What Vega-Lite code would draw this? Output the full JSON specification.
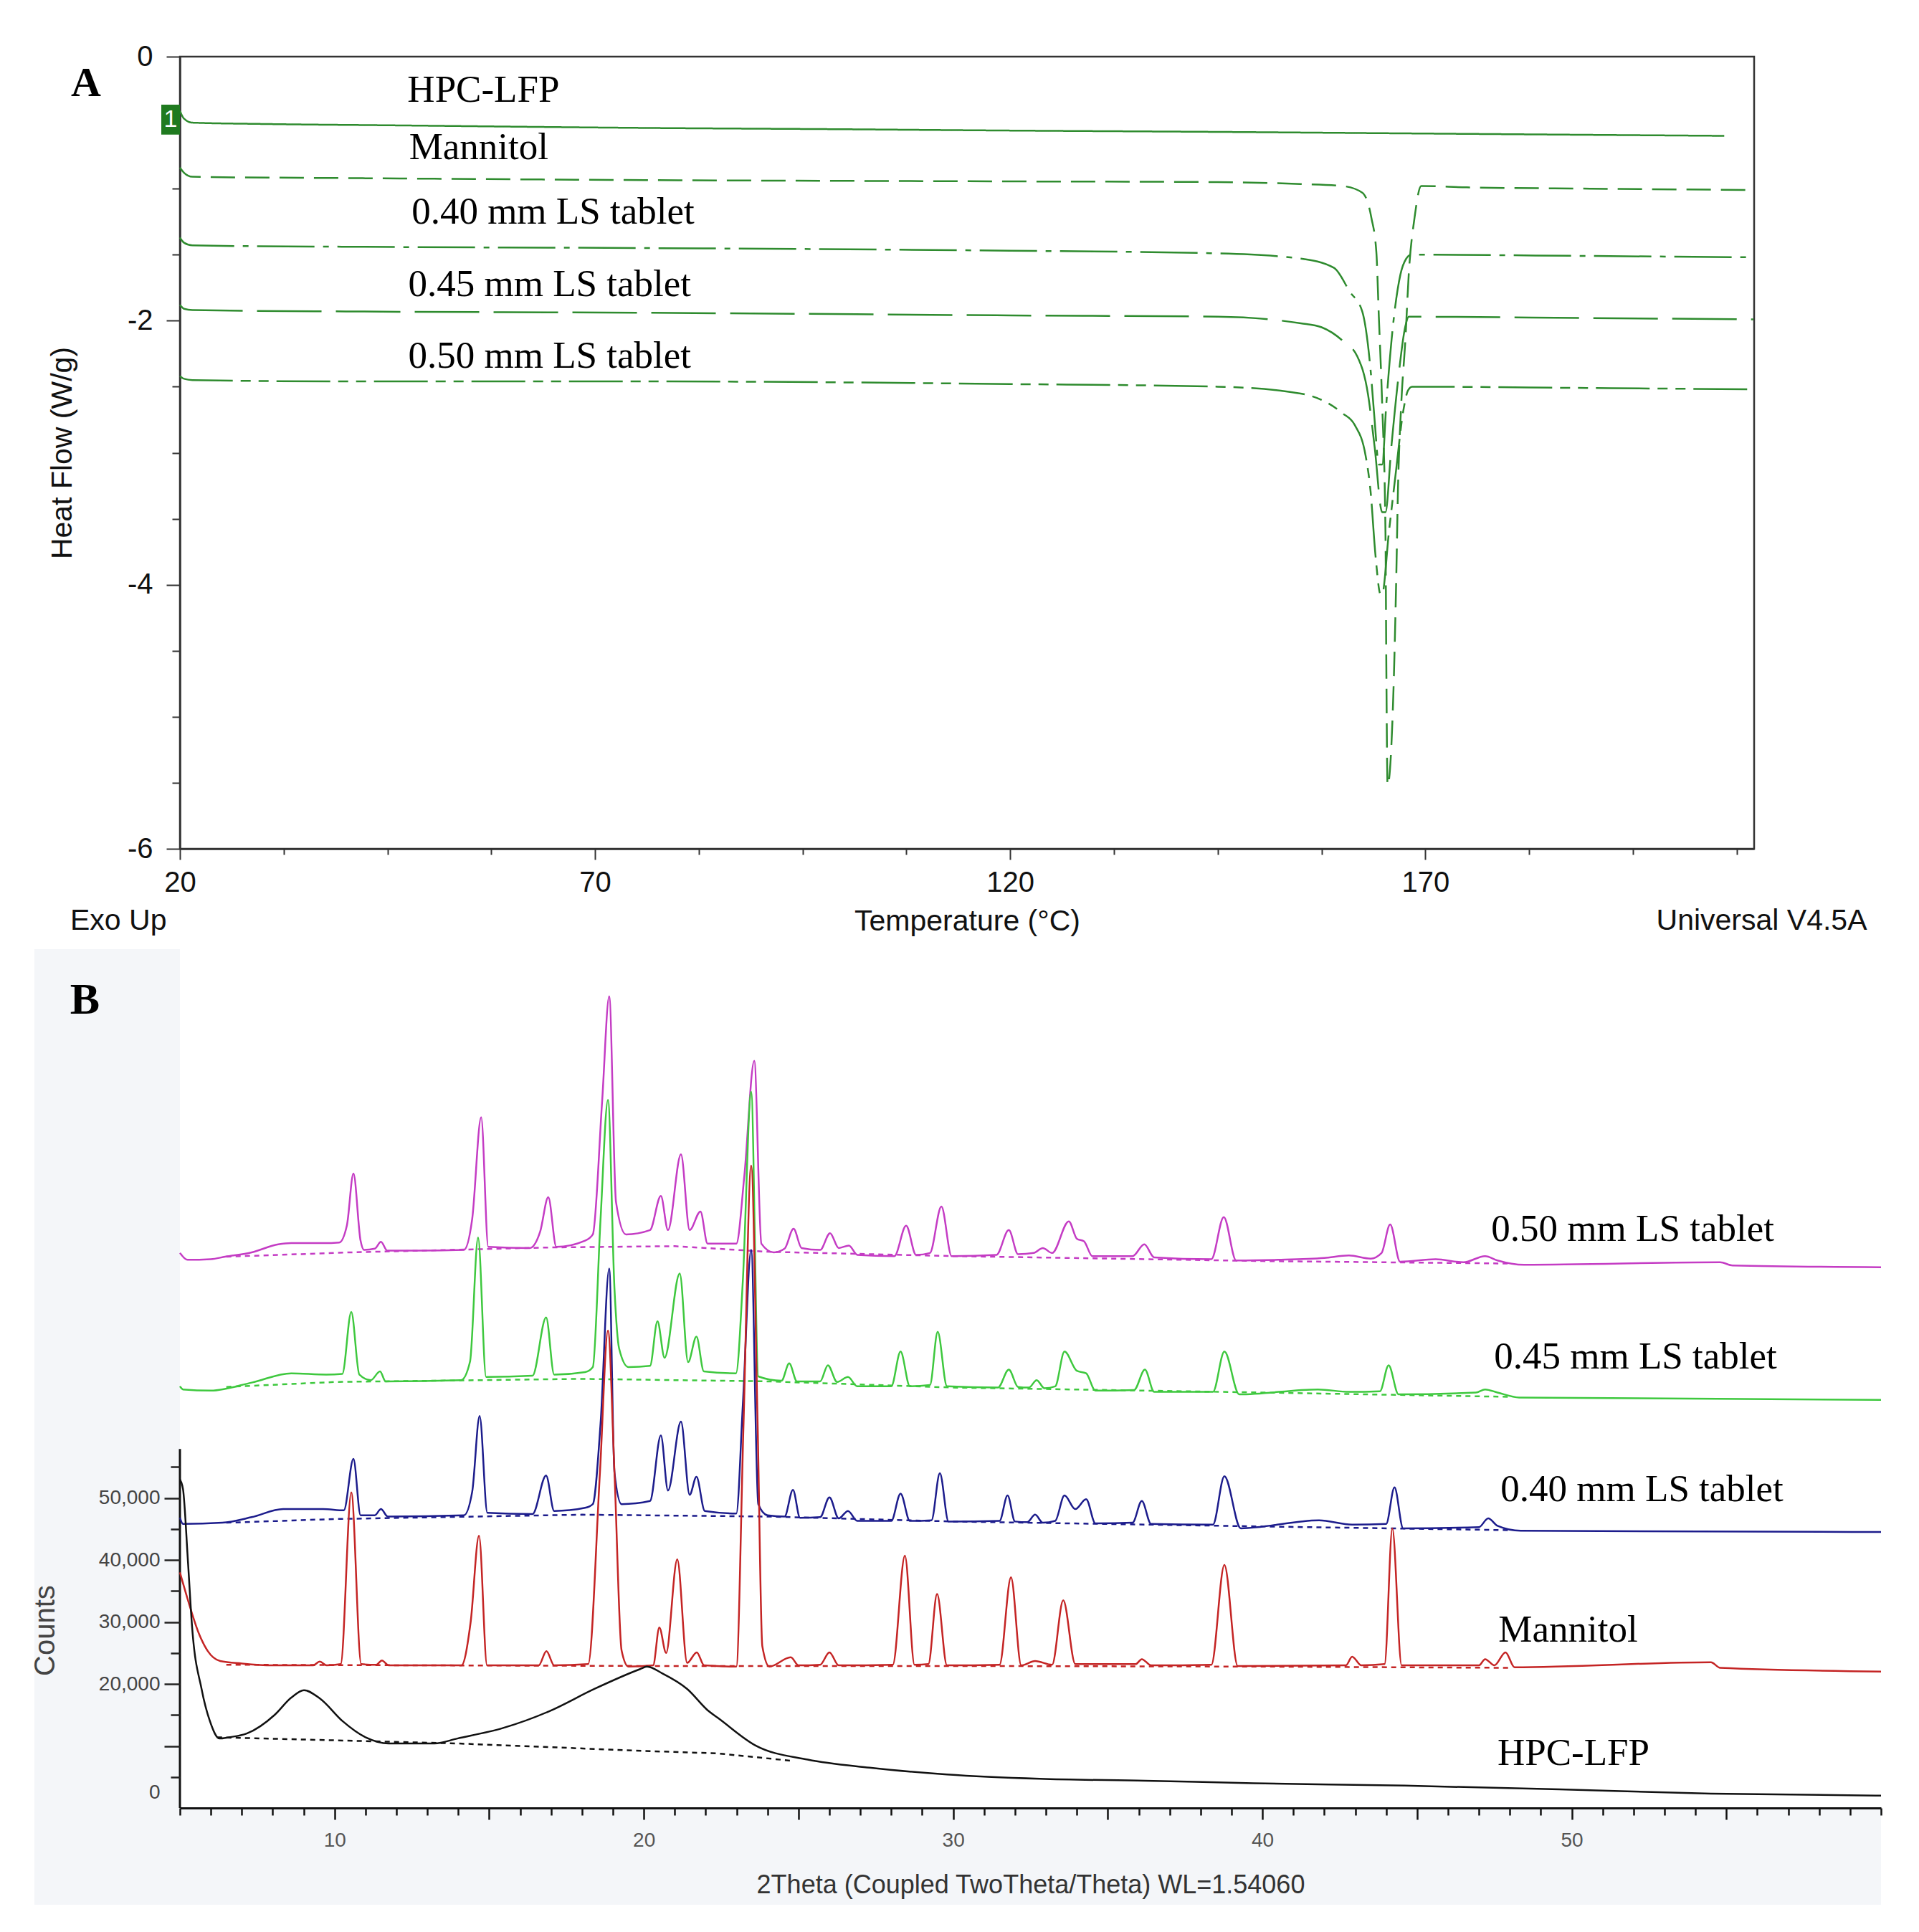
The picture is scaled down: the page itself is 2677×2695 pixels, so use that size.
{
"$schema": "https://vega.github.io/schema/vega-lite/v6.json",
"background": "white",
"padding": {"left": 43, "top": 57, "right": 0, "bottom": 0},
"config": {"font": "Liberation Sans"},
"bounds": "flush",
"spacing": 140,
"datasets": {
"dsc": [
{"s":"HPC","T":20,"hf":-0.41},{"s":"HPC","T":20.5,"hf":-0.47},{"s":"HPC","T":21.5,"hf":-0.5},{"s":"HPC","T":30,"hf":-0.51},{"s":"HPC","T":45,"hf":-0.52},{"s":"HPC","T":76,"hf":-0.54},{"s":"HPC","T":100,"hf":-0.55},{"s":"HPC","T":120,"hf":-0.56},{"s":"HPC","T":145,"hf":-0.57},{"s":"HPC","T":165,"hf":-0.58},{"s":"HPC","T":185,"hf":-0.59},{"s":"HPC","T":206,"hf":-0.6},
{"s":"MAN","T":20,"hf":-0.84},{"s":"MAN","T":20.5,"hf":-0.88},{"s":"MAN","T":21.5,"hf":-0.91},{"s":"MAN","T":40,"hf":-0.92},{"s":"MAN","T":76,"hf":-0.935},{"s":"MAN","T":120,"hf":-0.945},{"s":"MAN","T":145,"hf":-0.95},{"s":"MAN","T":155,"hf":-0.965},{"s":"MAN","T":160,"hf":-0.98},{"s":"MAN","T":162.4,"hf":-1.03},{"s":"MAN","T":163.5,"hf":-1.22},{"s":"MAN","T":164.1,"hf":-1.48},{"s":"MAN","T":164.4,"hf":-1.97},{"s":"MAN","T":164.8,"hf":-2.63},{"s":"MAN","T":165.2,"hf":-3.61},{"s":"MAN","T":165.3,"hf":-4.6},{"s":"MAN","T":165.45,"hf":-5.52},{"s":"MAN","T":166.1,"hf":-4.92},{"s":"MAN","T":166.5,"hf":-3.94},{"s":"MAN","T":166.7,"hf":-3.29},{"s":"MAN","T":167.1,"hf":-2.63},{"s":"MAN","T":167.6,"hf":-2.14},{"s":"MAN","T":168.0,"hf":-1.65},{"s":"MAN","T":168.7,"hf":-1.22},{"s":"MAN","T":169.5,"hf":-0.98},{"s":"MAN","T":175,"hf":-0.99},{"s":"MAN","T":190,"hf":-1.0},{"s":"MAN","T":209.5,"hf":-1.01},
{"s":"T40","T":20,"hf":-1.37},{"s":"T40","T":20.5,"hf":-1.41},{"s":"T40","T":21.5,"hf":-1.43},{"s":"T40","T":40,"hf":-1.44},{"s":"T40","T":76,"hf":-1.45},{"s":"T40","T":120,"hf":-1.47},{"s":"T40","T":145,"hf":-1.49},{"s":"T40","T":155,"hf":-1.53},{"s":"T40","T":159,"hf":-1.6},{"s":"T40","T":160.9,"hf":-1.78},{"s":"T40","T":162.4,"hf":-1.93},{"s":"T40","T":163.4,"hf":-2.37},{"s":"T40","T":163.9,"hf":-2.76},{"s":"T40","T":164.4,"hf":-3.09},{"s":"T40","T":164.8,"hf":-3.09},{"s":"T40","T":165.3,"hf":-2.63},{"s":"T40","T":166.1,"hf":-2.04},{"s":"T40","T":167.0,"hf":-1.65},{"s":"T40","T":167.7,"hf":-1.53},{"s":"T40","T":168.3,"hf":-1.5},{"s":"T40","T":190,"hf":-1.51},{"s":"T40","T":209.5,"hf":-1.52},
{"s":"T45","T":20,"hf":-1.88},{"s":"T45","T":20.5,"hf":-1.91},{"s":"T45","T":21.5,"hf":-1.92},{"s":"T45","T":40,"hf":-1.93},{"s":"T45","T":76,"hf":-1.94},{"s":"T45","T":120,"hf":-1.96},{"s":"T45","T":145,"hf":-1.97},{"s":"T45","T":155,"hf":-2.02},{"s":"T45","T":157.5,"hf":-2.05},{"s":"T45","T":160,"hf":-2.15},{"s":"T45","T":161.8,"hf":-2.27},{"s":"T45","T":163.1,"hf":-2.56},{"s":"T45","T":163.9,"hf":-2.96},{"s":"T45","T":164.8,"hf":-3.45},{"s":"T45","T":165.2,"hf":-3.45},{"s":"T45","T":165.9,"hf":-2.96},{"s":"T45","T":166.7,"hf":-2.46},{"s":"T45","T":167.6,"hf":-2.04},{"s":"T45","T":168.0,"hf":-1.97},{"s":"T45","T":190,"hf":-1.98},{"s":"T45","T":209.5,"hf":-1.99},
{"s":"T50","T":20,"hf":-2.42},{"s":"T50","T":20.5,"hf":-2.44},{"s":"T50","T":21.5,"hf":-2.45},{"s":"T50","T":40,"hf":-2.46},{"s":"T50","T":76,"hf":-2.46},{"s":"T50","T":120,"hf":-2.48},{"s":"T50","T":145,"hf":-2.5},{"s":"T50","T":152.6,"hf":-2.53},{"s":"T50","T":157.5,"hf":-2.6},{"s":"T50","T":160,"hf":-2.7},{"s":"T50","T":161.5,"hf":-2.79},{"s":"T50","T":162.8,"hf":-3.02},{"s":"T50","T":163.4,"hf":-3.29},{"s":"T50","T":164.0,"hf":-3.78},{"s":"T50","T":164.6,"hf":-4.07},{"s":"T50","T":164.8,"hf":-4.07},{"s":"T50","T":165.6,"hf":-3.61},{"s":"T50","T":166.5,"hf":-3.12},{"s":"T50","T":167.3,"hf":-2.7},{"s":"T50","T":167.9,"hf":-2.53},{"s":"T50","T":168.4,"hf":-2.5},{"s":"T50","T":190,"hf":-2.51},{"s":"T50","T":209.5,"hf":-2.52}
],
"labA": [
{"text":"HPC-LFP","T":47.4,"hf":-0.344},
{"text":"Mannitol","T":47.6,"hf":-0.778},
{"text":"0.40 mm LS tablet","T":47.9,"hf":-1.267},
{"text":"0.45 mm LS tablet","T":47.5,"hf":-1.815},
{"text":"0.50 mm LS tablet","T":47.5,"hf":-2.358}
],
"labB": [
{"text":"0.50 mm LS tablet","t":47.4,"c":91500},
{"text":"0.45 mm LS tablet","t":47.49,"c":70900},
{"text":"0.40 mm LS tablet","t":47.7,"c":49500},
{"text":"Mannitol","t":47.63,"c":26800},
{"text":"HPC-LFP","t":47.6,"c":6900}
],
"base": [
{"s":"p050","t":6.5,"c":88900},{"s":"p050","t":10.5,"c":89600},{"s":"p050","t":17,"c":90400},{"s":"p050","t":21,"c":90600},{"s":"p050","t":24,"c":89700},{"s":"p050","t":30,"c":89000},{"s":"p050","t":40,"c":88200},{"s":"p050","t":48,"c":87800},
{"s":"p045","t":6.5,"c":67900},{"s":"p045","t":10,"c":68700},{"s":"p045","t":18,"c":69200},{"s":"p045","t":24,"c":68800},{"s":"p045","t":30,"c":67800},{"s":"p045","t":40,"c":67000},{"s":"p045","t":48,"c":66300},
{"s":"p040","t":6.5,"c":46000},{"s":"p040","t":10,"c":46600},{"s":"p040","t":18,"c":47300},{"s":"p040","t":24,"c":47000},{"s":"p040","t":30,"c":46200},{"s":"p040","t":40,"c":45400},{"s":"p040","t":48,"c":44800},
{"s":"man","t":6.5,"c":23100},{"s":"man","t":20,"c":22900},{"s":"man","t":30,"c":22900},{"s":"man","t":40,"c":22800},{"s":"man","t":48,"c":22600},
{"s":"hpc","t":6.2,"c":11400},{"s":"hpc","t":14,"c":10400},{"s":"hpc","t":20,"c":9200},{"s":"hpc","t":22.4,"c":8800},{"s":"hpc","t":24.8,"c":7600}
],
"xrd": [
{"s":"p050","t":5.0,"c":89500},{"s":"p050","t":5.25,"c":88400},{"s":"p050","t":6.0,"c":88500},{"s":"p050","t":6.46,"c":88900},{"s":"p050","t":7.32,"c":89600},{"s":"p050","t":8.18,"c":90900},{"s":"p050","t":8.6,"c":91100},{"s":"p050","t":9.63,"c":91100},{"s":"p050","t":10.15,"c":91200},{"s":"p050","t":10.4,"c":94000},{"s":"p050","t":10.61,"c":102300},{"s":"p050","t":10.84,"c":91500},{"s":"p050","t":10.95,"c":90000},{"s":"p050","t":11.3,"c":90200},{"s":"p050","t":11.5,"c":91300},{"s":"p050","t":11.7,"c":89900},{"s":"p050","t":12.7,"c":89900},{"s":"p050","t":14.18,"c":90000},{"s":"p050","t":14.45,"c":95000},{"s":"p050","t":14.74,"c":111400},{"s":"p050","t":14.97,"c":90500},{"s":"p050","t":16.31,"c":90300},{"s":"p050","t":16.65,"c":93000},{"s":"p050","t":16.91,"c":98500},{"s":"p050","t":17.17,"c":90500},{"s":"p050","t":18.1,"c":91500},{"s":"p050","t":18.35,"c":92500},{"s":"p050","t":18.65,"c":113900},{"s":"p050","t":18.88,"c":130900},{"s":"p050","t":19.1,"c":97700},{"s":"p050","t":19.42,"c":92500},{"s":"p050","t":20.2,"c":93200},{"s":"p050","t":20.55,"c":98700},{"s":"p050","t":20.78,"c":93200},{"s":"p050","t":21.2,"c":105400},{"s":"p050","t":21.48,"c":93200},{"s":"p050","t":21.83,"c":96200},{"s":"p050","t":22.06,"c":91000},{"s":"p050","t":22.99,"c":91000},{"s":"p050","t":23.25,"c":102000},{"s":"p050","t":23.57,"c":120500},{"s":"p050","t":23.8,"c":91000},{"s":"p050","t":24.2,"c":89600},{"s":"p050","t":24.55,"c":90200},{"s":"p050","t":24.84,"c":93400},{"s":"p050","t":25.1,"c":90300},{"s":"p050","t":25.7,"c":90000},{"s":"p050","t":26.02,"c":92700},{"s":"p050","t":26.3,"c":90300},{"s":"p050","t":26.63,"c":90700},{"s":"p050","t":26.9,"c":89200},{"s":"p050","t":28.1,"c":89000},{"s":"p050","t":28.48,"c":93900},{"s":"p050","t":28.8,"c":89200},{"s":"p050","t":29.25,"c":89500},{"s":"p050","t":29.62,"c":97000},{"s":"p050","t":29.95,"c":89000},{"s":"p050","t":31.4,"c":89200},{"s":"p050","t":31.8,"c":93200},{"s":"p050","t":32.1,"c":89300},{"s":"p050","t":32.6,"c":89500},{"s":"p050","t":32.9,"c":90300},{"s":"p050","t":33.2,"c":89500},{"s":"p050","t":33.74,"c":94600},{"s":"p050","t":34.0,"c":91800},{"s":"p050","t":34.23,"c":91400},{"s":"p050","t":34.5,"c":89000},{"s":"p050","t":35.8,"c":89000},{"s":"p050","t":36.18,"c":90900},{"s":"p050","t":36.5,"c":88800},{"s":"p050","t":38.35,"c":88500},{"s":"p050","t":38.75,"c":95300},{"s":"p050","t":39.15,"c":88300},{"s":"p050","t":40.5,"c":88400},{"s":"p050","t":42.0,"c":88700},{"s":"p050","t":42.8,"c":89100},{"s":"p050","t":43.5,"c":88600},{"s":"p050","t":43.85,"c":89500},{"s":"p050","t":44.13,"c":94100},{"s":"p050","t":44.45,"c":88100},{"s":"p050","t":45.6,"c":88500},{"s":"p050","t":46.5,"c":88000},{"s":"p050","t":47.2,"c":89000},{"s":"p050","t":47.6,"c":88300},{"s":"p050","t":48.46,"c":87600},{"s":"p050","t":54.8,"c":88000},{"s":"p050","t":55.2,"c":87500},{"s":"p050","t":60,"c":87200},
{"s":"p045","t":5.0,"c":68000},{"s":"p045","t":5.1,"c":67500},{"s":"p045","t":6.0,"c":67300},{"s":"p045","t":7.32,"c":68600},{"s":"p045","t":8.6,"c":70100},{"s":"p045","t":9.73,"c":69900},{"s":"p045","t":10.25,"c":70000},{"s":"p045","t":10.54,"c":80000},{"s":"p045","t":10.8,"c":69900},{"s":"p045","t":11.17,"c":69000},{"s":"p045","t":11.47,"c":70400},{"s":"p045","t":11.65,"c":68800},{"s":"p045","t":14.09,"c":69000},{"s":"p045","t":14.38,"c":72000},{"s":"p045","t":14.64,"c":92000},{"s":"p045","t":14.9,"c":69500},{"s":"p045","t":16.4,"c":69700},{"s":"p045","t":16.84,"c":79100},{"s":"p045","t":17.1,"c":69900},{"s":"p045","t":18.1,"c":70300},{"s":"p045","t":18.35,"c":71100},{"s":"p045","t":18.6,"c":95000},{"s":"p045","t":18.84,"c":114200},{"s":"p045","t":19.05,"c":83700},{"s":"p045","t":19.2,"c":74100},{"s":"p045","t":19.5,"c":71100},{"s":"p045","t":20.2,"c":71300},{"s":"p045","t":20.44,"c":78500},{"s":"p045","t":20.67,"c":72600},{"s":"p045","t":21.16,"c":86200},{"s":"p045","t":21.43,"c":71900},{"s":"p045","t":21.7,"c":76000},{"s":"p045","t":21.94,"c":70400},{"s":"p045","t":22.98,"c":70100},{"s":"p045","t":23.2,"c":85000},{"s":"p045","t":23.47,"c":115500},{"s":"p045","t":23.7,"c":69600},{"s":"p045","t":24.45,"c":68900},{"s":"p045","t":24.7,"c":71700},{"s":"p045","t":24.95,"c":68800},{"s":"p045","t":25.7,"c":68800},{"s":"p045","t":25.95,"c":71400},{"s":"p045","t":26.25,"c":68700},{"s":"p045","t":26.6,"c":69500},{"s":"p045","t":26.9,"c":68000},{"s":"p045","t":28.0,"c":68000},{"s":"p045","t":28.3,"c":73600},{"s":"p045","t":28.6,"c":68000},{"s":"p045","t":29.25,"c":68200},{"s":"p045","t":29.5,"c":76800},{"s":"p045","t":29.8,"c":68000},{"s":"p045","t":31.45,"c":67800},{"s":"p045","t":31.8,"c":70700},{"s":"p045","t":32.1,"c":67900},{"s":"p045","t":32.45,"c":67800},{"s":"p045","t":32.7,"c":69000},{"s":"p045","t":32.95,"c":67700},{"s":"p045","t":33.3,"c":68000},{"s":"p045","t":33.6,"c":73600},{"s":"p045","t":34.0,"c":70500},{"s":"p045","t":34.3,"c":70100},{"s":"p045","t":34.6,"c":67300},{"s":"p045","t":35.85,"c":67400},{"s":"p045","t":36.2,"c":70700},{"s":"p045","t":36.5,"c":67100},{"s":"p045","t":38.4,"c":67100},{"s":"p045","t":38.77,"c":73600},{"s":"p045","t":39.25,"c":66700},{"s":"p045","t":41.8,"c":67500},{"s":"p045","t":42.8,"c":67100},{"s":"p045","t":43.8,"c":67200},{"s":"p045","t":44.08,"c":71400},{"s":"p045","t":44.4,"c":66700},{"s":"p045","t":46.9,"c":67000},{"s":"p045","t":47.2,"c":67500},{"s":"p045","t":47.6,"c":67000},{"s":"p045","t":48.3,"c":66200},{"s":"p045","t":60,"c":65800},
{"s":"p040","t":5.0,"c":46800},{"s":"p040","t":5.1,"c":45800},{"s":"p040","t":6.37,"c":46000},{"s":"p040","t":7.32,"c":46900},{"s":"p040","t":8.34,"c":48200},{"s":"p040","t":9.63,"c":48200},{"s":"p040","t":10.3,"c":48000},{"s":"p040","t":10.61,"c":56300},{"s":"p040","t":10.84,"c":47200},{"s":"p040","t":11.3,"c":47200},{"s":"p040","t":11.5,"c":48200},{"s":"p040","t":11.72,"c":47000},{"s":"p040","t":14.18,"c":47200},{"s":"p040","t":14.45,"c":51000},{"s":"p040","t":14.69,"c":63200},{"s":"p040","t":14.94,"c":47600},{"s":"p040","t":16.4,"c":47400},{"s":"p040","t":16.84,"c":53600},{"s":"p040","t":17.1,"c":47900},{"s":"p040","t":18.1,"c":48400},{"s":"p040","t":18.35,"c":49000},{"s":"p040","t":18.6,"c":62000},{"s":"p040","t":18.88,"c":87000},{"s":"p040","t":19.05,"c":54100},{"s":"p040","t":19.28,"c":49000},{"s":"p040","t":20.2,"c":49500},{"s":"p040","t":20.55,"c":60100},{"s":"p040","t":20.78,"c":51200},{"s":"p040","t":21.2,"c":62300},{"s":"p040","t":21.48,"c":50500},{"s":"p040","t":21.7,"c":53400},{"s":"p040","t":21.97,"c":47900},{"s":"p040","t":22.99,"c":47500},{"s":"p040","t":23.2,"c":65000},{"s":"p040","t":23.47,"c":90000},{"s":"p040","t":23.7,"c":49000},{"s":"p040","t":24.0,"c":47200},{"s":"p040","t":24.55,"c":47000},{"s":"p040","t":24.82,"c":51300},{"s":"p040","t":25.05,"c":46800},{"s":"p040","t":25.7,"c":46900},{"s":"p040","t":26.0,"c":50100},{"s":"p040","t":26.3,"c":46700},{"s":"p040","t":26.6,"c":47900},{"s":"p040","t":26.9,"c":46300},{"s":"p040","t":28.0,"c":46300},{"s":"p040","t":28.3,"c":50700},{"s":"p040","t":28.6,"c":46300},{"s":"p040","t":29.3,"c":46400},{"s":"p040","t":29.57,"c":54000},{"s":"p040","t":29.85,"c":46200},{"s":"p040","t":31.5,"c":46300},{"s":"p040","t":31.76,"c":50400},{"s":"p040","t":32.0,"c":46200},{"s":"p040","t":32.4,"c":46100},{"s":"p040","t":32.65,"c":47300},{"s":"p040","t":32.9,"c":46000},{"s":"p040","t":33.3,"c":46300},{"s":"p040","t":33.6,"c":50400},{"s":"p040","t":33.95,"c":48200},{"s":"p040","t":34.3,"c":49800},{"s":"p040","t":34.6,"c":45900},{"s":"p040","t":35.8,"c":46000},{"s":"p040","t":36.1,"c":49500},{"s":"p040","t":36.4,"c":45800},{"s":"p040","t":38.4,"c":45700},{"s":"p040","t":38.77,"c":53500},{"s":"p040","t":39.3,"c":45100},{"s":"p040","t":41.83,"c":46400},{"s":"p040","t":42.9,"c":45700},{"s":"p040","t":44.0,"c":45800},{"s":"p040","t":44.27,"c":51700},{"s":"p040","t":44.55,"c":45100},{"s":"p040","t":47.0,"c":45300},{"s":"p040","t":47.3,"c":46700},{"s":"p040","t":47.6,"c":45500},{"s":"p040","t":48.35,"c":44700},{"s":"p040","t":60,"c":44500},
{"s":"man","t":5.0,"c":38000},{"s":"man","t":5.26,"c":33500},{"s":"man","t":5.6,"c":28300},{"s":"man","t":5.9,"c":25300},{"s":"man","t":6.3,"c":23700},{"s":"man","t":7.0,"c":23300},{"s":"man","t":8.0,"c":23000},{"s":"man","t":9.3,"c":23000},{"s":"man","t":9.52,"c":23600},{"s":"man","t":9.75,"c":23000},{"s":"man","t":10.2,"c":23200},{"s":"man","t":10.54,"c":50900},{"s":"man","t":10.86,"c":23200},{"s":"man","t":11.35,"c":23100},{"s":"man","t":11.53,"c":23800},{"s":"man","t":11.75,"c":23000},{"s":"man","t":14.1,"c":23000},{"s":"man","t":14.4,"c":30000},{"s":"man","t":14.67,"c":43900},{"s":"man","t":14.93,"c":23000},{"s":"man","t":16.6,"c":23000},{"s":"man","t":16.85,"c":25300},{"s":"man","t":17.1,"c":23000},{"s":"man","t":18.2,"c":23200},{"s":"man","t":18.58,"c":54100},{"s":"man","t":18.84,"c":77000},{"s":"man","t":19.05,"c":54100},{"s":"man","t":19.28,"c":25400},{"s":"man","t":19.5,"c":22800},{"s":"man","t":20.3,"c":23000},{"s":"man","t":20.5,"c":29100},{"s":"man","t":20.72,"c":25000},{"s":"man","t":21.08,"c":40100},{"s":"man","t":21.4,"c":23400},{"s":"man","t":21.71,"c":25100},{"s":"man","t":21.95,"c":23000},{"s":"man","t":22.99,"c":22800},{"s":"man","t":23.22,"c":61500},{"s":"man","t":23.47,"c":103600},{"s":"man","t":23.68,"c":61500},{"s":"man","t":23.83,"c":26100},{"s":"man","t":24.06,"c":22800},{"s":"man","t":24.75,"c":24300},{"s":"man","t":25.0,"c":23000},{"s":"man","t":25.7,"c":23100},{"s":"man","t":26.0,"c":25100},{"s":"man","t":26.3,"c":23000},{"s":"man","t":28.05,"c":23100},{"s":"man","t":28.44,"c":40700},{"s":"man","t":28.75,"c":23100},{"s":"man","t":29.2,"c":23200},{"s":"man","t":29.48,"c":34500},{"s":"man","t":29.8,"c":23000},{"s":"man","t":31.5,"c":23100},{"s":"man","t":31.87,"c":37200},{"s":"man","t":32.2,"c":23000},{"s":"man","t":32.65,"c":23700},{"s":"man","t":33.2,"c":23100},{"s":"man","t":33.56,"c":33500},{"s":"man","t":33.95,"c":23200},{"s":"man","t":35.9,"c":23200},{"s":"man","t":36.1,"c":24000},{"s":"man","t":36.4,"c":23000},{"s":"man","t":38.35,"c":23100},{"s":"man","t":38.77,"c":39200},{"s":"man","t":39.2,"c":22900},{"s":"man","t":42.7,"c":23000},{"s":"man","t":42.9,"c":24400},{"s":"man","t":43.2,"c":23000},{"s":"man","t":43.95,"c":23200},{"s":"man","t":44.2,"c":45100},{"s":"man","t":44.5,"c":23000},{"s":"man","t":47.0,"c":23000},{"s":"man","t":47.2,"c":24000},{"s":"man","t":47.5,"c":23000},{"s":"man","t":47.86,"c":25100},{"s":"man","t":48.15,"c":22700},{"s":"man","t":54.5,"c":23500},{"s":"man","t":54.8,"c":22600},{"s":"man","t":60,"c":22000},
{"s":"hpc","t":5.0,"c":53000},{"s":"hpc","t":5.1,"c":51400},{"s":"hpc","t":5.26,"c":39700},{"s":"hpc","t":5.39,"c":29400},{"s":"hpc","t":5.7,"c":19200},{"s":"hpc","t":5.97,"c":14000},{"s":"hpc","t":6.28,"c":11200},{"s":"hpc","t":6.58,"c":11400},{"s":"hpc","t":7.16,"c":12000},{"s":"hpc","t":8.06,"c":15000},{"s":"hpc","t":8.6,"c":17800},{"s":"hpc","t":9.01,"c":19000},{"s":"hpc","t":9.54,"c":17600},{"s":"hpc","t":10.26,"c":14000},{"s":"hpc","t":11.0,"c":11400},{"s":"hpc","t":11.75,"c":10400},{"s":"hpc","t":13.23,"c":10400},{"s":"hpc","t":13.97,"c":11200},{"s":"hpc","t":15.45,"c":12900},{"s":"hpc","t":16.94,"c":15600},{"s":"hpc","t":18.4,"c":19200},{"s":"hpc","t":19.88,"c":22400},{"s":"hpc","t":20.1,"c":22800},{"s":"hpc","t":20.6,"c":21700},{"s":"hpc","t":21.4,"c":19200},{"s":"hpc","t":22.1,"c":15600},{"s":"hpc","t":22.4,"c":14500},{"s":"hpc","t":23.6,"c":10100},{"s":"hpc","t":25.3,"c":7800},{"s":"hpc","t":27.3,"c":6500},{"s":"hpc","t":29.8,"c":5400},{"s":"hpc","t":32.8,"c":4700},{"s":"hpc","t":36.2,"c":4400},{"s":"hpc","t":39.7,"c":4000},{"s":"hpc","t":44.6,"c":3600},{"s":"hpc","t":49.6,"c":3000},{"s":"hpc","t":54.5,"c":2300},{"s":"hpc","t":60,"c":2000}
]
},
"vconcat": [
{
"width": 2196,
"height": 1105,
"view": {"stroke": "#333333", "strokeWidth": 2.5},
"resolve": {"axis": {"x": "independent", "y": "independent"}},
"layer": [
{
"data": {"name": "dsc"},
"mark": {"type": "line", "strokeWidth": 2.5, "color": "#2e8b2e", "interpolate": "monotone"},
"encoding": {
"x": {"field": "T", "type": "quantitative", "scale": {"domain": [20, 209.6], "nice": false, "zero": false},
"axis": {"orient": "bottom", "values": [20,70,120,170], "format": "d", "tickSize": 15,
"tickColor": "#333333", "tickWidth": 2, "domainColor": "#333333", "domainWidth": 2.5,
"labelFont": "Liberation Sans", "labelFontSize": 40, "labelColor": "#111111", "labelPadding": 12, "labelFlush": false, "labelOverlap": false, "grid": false,
"title": "Temperature (°C)", "titleFont": "Liberation Sans", "titleFontSize": 41, "titleFontWeight": "normal", "titleColor": "#111111", "titleY": 113, "titleBaseline": "alphabetic"}},
"y": {"field": "hf", "type": "quantitative", "scale": {"domain": [-6, 0], "nice": false, "zero": false},
"axis": {"orient": "left", "values": [0,-2,-4,-6],
"labelExpr": "'' + datum.value", "tickSize": 19,
"tickColor": "#333333", "tickWidth": 2, "domainColor": "#333333", "domainWidth": 2.5,
"labelFont": "Liberation Sans", "labelFontSize": 40, "labelColor": "#111111", "labelPadding": 19, "labelOverlap": false, "grid": false,
"title": "Heat Flow (W/g)", "titleFont": "Liberation Sans", "titleFontSize": 41, "titleFontWeight": "normal", "titleColor": "#111111", "titleX": -164, "titleBaseline": "middle"}},
"strokeDash": {"field": "s", "type": "nominal", "scale": {"domain": ["HPC","MAN","T40","T45","T50"], "range": [[1,0],[34,14],[80,12,8,12],[90,20],[75,11,14,11,14,11]]}, "legend": null}
}
},
{
"data": {"values": [{}]},
"mark": {"type": "point", "opacity": 0},
"encoding": {
"x": {"datum": 20, "type": "quantitative", "axis": {"orient": "bottom", "values": [32.5,45,57.5,82.5,95,107.5,132.5,145,157.5,182.5,195,207.5], "tickSize": 8, "tickColor": "#333333", "tickWidth": 2, "labels": false, "domain": false, "grid": false, "title": null}},
"y": {"datum": -6, "type": "quantitative", "axis": {"orient": "left", "values": [-0.5,-1,-1.5,-2.5,-3,-3.5,-4.5,-5,-5.5], "tickSize": 11, "tickColor": "#333333", "tickWidth": 2, "labels": false, "domain": false, "grid": false, "title": null}}
}
},
{
"data": {"name": "labA"},
"mark": {"type": "text", "font": "Liberation Serif", "fontSize": 53, "align": "left", "baseline": "alphabetic", "color": "#000000"},
"encoding": {
"x": {"field": "T", "type": "quantitative", "axis": null},
"y": {"field": "hf", "type": "quantitative", "axis": null},
"text": {"field": "text"}
}
},
{
"data": {"values": [{}]},
"mark": {"type": "text", "font": "Liberation Serif", "fontWeight": "bold", "fontSize": 58, "align": "left", "baseline": "alphabetic", "color": "#000000", "text": "A"},
"encoding": {"x": {"datum": 6.87, "axis": null}, "y": {"datum": -0.298, "axis": null}}
},
{
"data": {"values": [{}]},
"mark": {"type": "text", "font": "Liberation Sans", "fontSize": 41, "align": "left", "baseline": "alphabetic", "color": "#111111", "text": "Exo Up"},
"encoding": {"x": {"datum": 6.79, "axis": null}, "y": {"datum": -6.613, "axis": null}}
},
{
"data": {"values": [{}]},
"mark": {"type": "text", "font": "Liberation Sans", "fontSize": 41, "align": "right", "baseline": "alphabetic", "color": "#111111", "text": "Universal V4.5A"},
"encoding": {"x": {"datum": 223.2, "axis": null}, "y": {"datum": -6.613, "axis": null}}
},
{
"data": {"values": [{}]},
"mark": {"type": "rect", "color": "#1f7a1f", "xOffset": -26},
"encoding": {"x": {"datum": 20, "axis": null}, "x2": {"datum": 20}, "y": {"datum": -0.364, "axis": null}, "y2": {"datum": -0.59}}
},
{
"data": {"values": [{}]},
"mark": {"type": "text", "font": "Liberation Sans", "fontSize": 34, "align": "center", "baseline": "middle", "color": "#ffffff", "text": "1", "dx": -13},
"encoding": {"x": {"datum": 20, "axis": null}, "y": {"datum": -0.477, "axis": null}}
}
]
},
{
"width": 2373,
"height": 1198,
"view": {"stroke": null},
"resolve": {"axis": {"x": "independent", "y": "independent"}},
"layer": [
{
"data": {"values": [{}]},
"mark": {"type": "rect", "color": "#f4f6f9", "xOffset": -203, "yOffset": 135},
"encoding": {"x": {"datum": 5, "axis": null}, "x2": {"datum": 60}, "y": {"datum": 0, "axis": null}, "y2": {"datum": 138500}}
},
{
"data": {"values": [{}]},
"mark": {"type": "rect", "color": "#ffffff"},
"encoding": {"x": {"datum": 5, "axis": null}, "x2": {"datum": 60}, "y": {"datum": 0, "axis": null}, "y2": {"datum": 138500}}
},
{
"data": {"values": [{}]},
"mark": {"type": "rule", "color": "#111111", "strokeWidth": 3},
"encoding": {"x": {"datum": 5, "axis": null}, "y": {"datum": 0, "axis": null}, "y2": {"datum": 57900}}
},
{
"data": {"name": "base"},
"mark": {"type": "line", "strokeWidth": 2.5, "strokeDash": [7, 6]},
"encoding": {
"x": {"field": "t", "type": "quantitative", "axis": null},
"y": {"field": "c", "type": "quantitative", "axis": null},
"color": {"field": "s", "type": "nominal", "scale": {"domain": ["p050","p045","p040","man","hpc"], "range": ["#c43cc4","#3ec83e","#1c1c8c","#c42424","#111111"]}, "legend": null}
}
},
{
"data": {"name": "xrd"},
"mark": {"type": "line", "strokeWidth": 2.5, "interpolate": "monotone"},
"encoding": {
"x": {"field": "t", "type": "quantitative", "scale": {"domain": [5, 60], "nice": false, "zero": false},
"axis": {"orient": "bottom", "values": [10,15,20,25,30,35,40,45,50,55],
"labelExpr": "datum.value % 10 === 0 ? '' + datum.value : ''", "tickSize": 16,
"tickColor": "#111111", "tickWidth": 2.5, "domainColor": "#111111", "domainWidth": 3,
"labelFont": "Liberation Sans", "labelFontSize": 28, "labelColor": "#555555", "labelPadding": 15, "labelFlush": false, "labelOverlap": false, "grid": false,
"title": "2Theta (Coupled TwoTheta/Theta) WL=1.54060", "titleFont": "Liberation Sans", "titleFontSize": 36, "titleFontWeight": "normal", "titleColor": "#333333", "titleY": 118, "titleBaseline": "alphabetic", "zindex": 1}},
"y": {"field": "c", "type": "quantitative", "scale": {"domain": [0, 138500], "nice": false, "zero": false},
"axis": {"orient": "left", "values": [10000,20000,30000,40000,50000],
"labelExpr": "datum.value === 10000 ? '' : format(datum.value, ',')", "tickSize": 22,
"tickColor": "#222222", "tickWidth": 2.5, "domain": false,
"labelFont": "Liberation Sans", "labelFontSize": 28, "labelColor": "#444444", "labelPadding": 6, "labelOverlap": false, "grid": false,
"title": "Counts", "titleFont": "Liberation Sans", "titleFontSize": 40, "titleFontWeight": "normal", "titleColor": "#444444", "titleX": -188, "titleY": 950, "titleBaseline": "middle", "zindex": 1}},
"color": {"field": "s", "type": "nominal", "legend": null}
}
},
{
"data": {"values": [{}]},
"mark": {"type": "point", "opacity": 0},
"encoding": {
"x": {"datum": 5, "type": "quantitative", "axis": {"orient": "bottom", "values": [5,6,7,8,9,11,12,13,14,16,17,18,19,21,22,23,24,26,27,28,29,31,32,33,34,36,37,38,39,41,42,43,44,46,47,48,49,51,52,53,54,56,57,58,59,60], "tickSize": 10, "tickColor": "#111111", "tickWidth": 2.5, "labels": false, "domain": false, "grid": false, "title": null, "zindex": 1}},
"y": {"datum": 0, "type": "quantitative", "axis": {"orient": "left", "values": [5000,15000,25000,35000,45000,55000], "tickSize": 13, "tickColor": "#222222", "tickWidth": 2.5, "labels": false, "domain": false, "grid": false, "title": null, "zindex": 1}}
}
},
{
"data": {"values": [{}]},
"mark": {"type": "point", "opacity": 0},
"encoding": {
"y": {"datum": 0, "type": "quantitative", "axis": {"orient": "left", "values": [0], "ticks": false, "labelOffset": -22, "labelPadding": 28, "labelFont": "Liberation Sans", "labelFontSize": 28, "labelColor": "#444444", "domain": false, "grid": false, "title": null, "zindex": 1}}
}
},
{
"data": {"name": "labB"},
"mark": {"type": "text", "font": "Liberation Serif", "fontSize": 53, "align": "left", "baseline": "alphabetic", "color": "#000000"},
"encoding": {
"x": {"field": "t", "type": "quantitative", "axis": null},
"y": {"field": "c", "type": "quantitative", "axis": null},
"text": {"field": "text"}
}
},
{
"data": {"values": [{}]},
"mark": {"type": "text", "font": "Liberation Serif", "fontWeight": "bold", "fontSize": 62, "align": "left", "baseline": "alphabetic", "color": "#000000", "text": "B"},
"encoding": {"x": {"datum": 1.45, "axis": null}, "y": {"datum": 128100, "axis": null}}
}
]
}
]
}
